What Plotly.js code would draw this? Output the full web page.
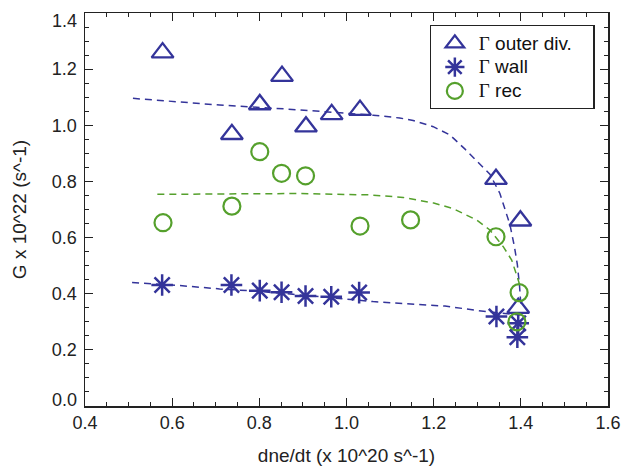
<!DOCTYPE html>
<html>
<head>
<meta charset="utf-8">
<script src="https://cdn.plot.ly/plotly-3.0.1.min.js"></script>
<style>html,body{margin:0;padding:0;background:#fff;}#chart{width:631px;height:468px;}</style>
</head>
<body>
<div id="chart"></div>
<script>
// Measured points
const outerDivX = [0.578, 0.737, 0.801, 0.852, 0.907, 0.966, 1.031, 1.343, 1.399, 1.394];
const outerDivY = [1.259, 0.968, 1.074, 1.175, 0.995, 1.039, 1.054, 0.808, 0.660, 0.349];

const wallX = [0.577, 0.736, 0.801, 0.851, 0.906, 0.965, 1.029, 1.344, 1.394, 1.392];
const wallY = [0.431, 0.431, 0.411, 0.405, 0.392, 0.389, 0.404, 0.319, 0.295, 0.245];

const recX = [0.579, 0.737, 0.801, 0.851, 0.906, 1.031, 1.147, 1.343, 1.396, 1.391];
const recY = [0.653, 0.712, 0.906, 0.829, 0.820, 0.641, 0.663, 0.603, 0.404, 0.300];

// Dashed fit curves
const fitOuterX = [0.51, 0.709, 0.862, 0.97, 1.061, 1.122, 1.153, 1.199, 1.237, 1.272, 1.306, 1.329, 1.352, 1.375, 1.385, 1.392, 1.397, 1.40];
const fitOuterY = [1.096, 1.072, 1.058, 1.047, 1.036, 1.026, 1.017, 0.995, 0.966, 0.915, 0.861, 0.826, 0.757, 0.646, 0.570, 0.504, 0.428, 0.362];

const fitRecX = [0.566, 0.75, 0.893, 1.053, 1.13, 1.2, 1.245, 1.298, 1.329, 1.36, 1.379, 1.394, 1.398];
const fitRecY = [0.754, 0.756, 0.757, 0.752, 0.743, 0.723, 0.703, 0.663, 0.627, 0.567, 0.520, 0.449, 0.428];

const fitWallX = [0.508, 0.61, 0.709, 0.785, 0.877, 1.061, 1.226, 1.321, 1.40];
const fitWallY = [0.440, 0.430, 0.417, 0.410, 0.398, 0.372, 0.356, 0.336, 0.324];

const xTicks = [0.4, 0.6, 0.8, 1.0, 1.2, 1.4, 1.6];
const yTicks = [0.0, 0.2, 0.4, 0.6, 0.8, 1.0, 1.2, 1.4];
// end labels of the y axis are drawn slightly inside the frame, as in the source
const yTickText = ["", "0.2", "0.4", "0.6", "0.8", "1.0", "1.2", ""];
const yEndLabels = [{v: 0.0, text: "0.0", shift: 6}, {v: 1.4, text: "1.4", shift: -8}];

const labels = ["outer div.", "wall", "rec"];

const BLUE = "#34349a";
const GREEN = "#55a02c";
function legendName(s, pad) {
  return "<span style='font-family:\"Liberation Serif\",\"Times New Roman\",serif;font-size:19px'>Γ</span>" +
         "<span style='font-size:19px'> " + s + (pad ? "\u00a0\u00a0\u00a0" : "") + "</span>";
}

const traces = [
  {x: fitOuterX, y: fitOuterY, mode: "lines", line: {color: BLUE, width: 1.5, dash: "7px,5px"}, showlegend: false, hoverinfo: "skip"},
  {x: fitRecX, y: fitRecY, mode: "lines", line: {color: GREEN, width: 1.5, dash: "7px,5px"}, showlegend: false, hoverinfo: "skip"},
  {x: fitWallX, y: fitWallY, mode: "lines", line: {color: BLUE, width: 1.5, dash: "7px,5px"}, showlegend: false, hoverinfo: "skip"},
  {x: outerDivX, y: outerDivY, mode: "markers", name: legendName(labels[0], true),
   marker: {symbol: "triangle-up-open", size: 19, color: BLUE, line: {color: BLUE, width: 2.3}}},
  {x: wallX, y: wallY, mode: "markers", name: legendName(labels[1], false),
   marker: {symbol: "asterisk-open", size: 18, color: BLUE, line: {color: BLUE, width: 2.5}}},
  {x: recX, y: recY, mode: "markers", name: legendName(labels[2], false),
   marker: {symbol: "circle-open", size: 17, color: GREEN, line: {color: GREEN, width: 2.2}}}
];

const TICKFONT = {family: "Liberation Sans, Arial, sans-serif", size: 18, color: "#222"};

const axisCommon = {
  showgrid: false, zeroline: false, showline: true, linecolor: "#222", linewidth: 1.5,
  mirror: "ticks", ticks: "inside", ticklen: 8, tickwidth: 1.2, tickcolor: "#222",
  tickfont: TICKFONT,
  tickformat: ".1f",
  minor: {dtick: 0.05, ticks: "inside", ticklen: 4, tickwidth: 1, tickcolor: "#222", showgrid: false}
};

const annotations = yEndLabels.map(d => ({
  xref: "paper", yref: "y", x: 0, y: d.v, text: d.text, showarrow: false,
  xanchor: "right", yanchor: "middle", xshift: -6, yshift: d.shift, font: TICKFONT
}));

const layout = {
  width: 631, height: 468,
  margin: {l: 85, r: 23, t: 13, b: 62},
  paper_bgcolor: "#fff", plot_bgcolor: "#fff",
  font: {family: "Liberation Sans, Arial, sans-serif", color: "#222"},
  xaxis: Object.assign({}, axisCommon, {
    range: [0.4, 1.6], tickvals: xTicks,
    title: {text: "dne/dt (x 10^20 s^-1)", font: {size: 19, color: "#222"}, standoff: 16}
  }),
  yaxis: Object.assign({}, axisCommon, {
    range: [0, 1.4], tickvals: yTicks, ticktext: yTickText, ticklabelstandoff: 3,
    title: {text: "G x 10^22 (s^-1)", font: {size: 19, color: "#222"}, standoff: 20}
  }),
  annotations: annotations,
  legend: {
    x: 0.659, y: 0.969, xanchor: "left", yanchor: "top",
    bgcolor: "#fff", bordercolor: "#222", borderwidth: 1.2,
    font: {family: "Liberation Sans, Arial, sans-serif", size: 16, color: "#111"},
    tracegroupgap: 0, itemwidth: 38
  },
  showlegend: true
};

Plotly.newPlot("chart", traces, layout, {displayModeBar: false, staticPlot: true});
</script>
</body>
</html>
